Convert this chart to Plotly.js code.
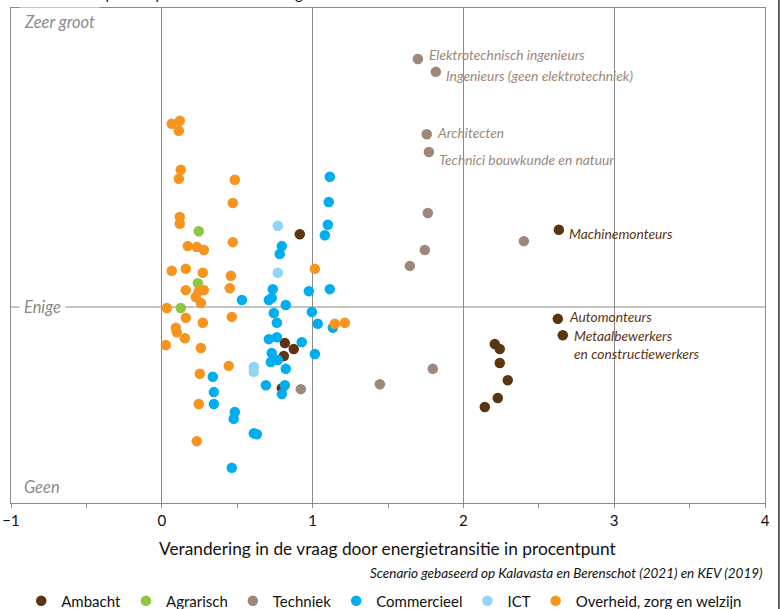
<!DOCTYPE html>
<html>
<head>
<meta charset="utf-8">
<script src="https://cdn.plot.ly/plotly-3.0.1.min.js"></script>
<style>html,body{margin:0;padding:0;background:#fff;}#chart{width:780px;height:609px;}</style>
</head>
<body>
<div id="chart"></div>
<script>
// Category names
const categories = ["Ambacht", "Agrarisch", "Techniek", "Commercieel", "ICT", "Overheid, zorg en welzijn"];

// Series values: x = verandering in vraag (procentpunt), y = mate van knelpunt (0 = geen, 100 = zeer groot)
const xAmbacht = [2.633, 2.626, 2.659, 2.208, 2.241, 2.241, 2.294, 2.228, 2.142, 0.915, 0.816, 0.875, 0.809, 0.796];
const yAmbacht = [55.2, 37.2, 33.9, 32.1, 31.1, 28.3, 24.8, 21.2, 19.4, 54.3, 32.3, 31.1, 29.7, 23.2];

const xAgrarisch = [0.245, 0.239, 0.126];
const yAgrarisch = [54.9, 44.4, 39.4];

const xTechniek = [1.698, 1.817, 1.757, 1.771, 1.764, 1.744, 1.645, 2.401, 1.797, 1.446, 0.922];
const yTechniek = [89.7, 87.1, 74.5, 70.9, 58.6, 51.1, 47.9, 52.9, 27.1, 24.0, 23.0];

const xCommercieel = [1.114, 1.107, 1.101, 1.081, 0.796, 0.782, 1.114, 0.975, 0.736, 0.531, 0.710, 0.729,
  0.822, 0.743, 0.995, 0.763, 1.034, 1.134, 0.710, 0.763, 0.928, 0.729, 0.723, 0.769, 1.015, 0.822,
  0.338, 0.690, 0.816, 0.796, 0.345, 0.345, 0.484, 0.477, 0.610, 0.630, 0.464];
const yCommercieel = [65.9, 60.8, 56.2, 54.1, 51.9, 50.3, 43.2, 42.8, 43.2, 41.0, 41.0, 41.4,
  40.0, 38.4, 38.6, 36.4, 36.2, 35.4, 33.1, 33.5, 32.5, 30.3, 28.5, 28.9, 30.1, 27.1,
  25.5, 23.8, 23.8, 22.0, 22.4, 20.0, 18.4, 17.0, 14.1, 13.9, 7.1];

const xICT = [0.769, 0.769, 0.610, 0.610];
const yICT = [56.0, 46.5, 27.5, 26.5];

const xOverheid = [0.066, 0.119, 0.113, 0.126, 0.113, 0.484, 0.471, 0.119, 0.119, 0.471, 0.172, 0.232, 0.279,
  1.015, 0.066, 0.159, 0.272, 0.458, 0.159, 0.245, 0.279, 0.451, 0.225, 0.259, 0.033, 0.159, 0.272, 0.464,
  0.093, 0.099, 0.153, 0.027, 0.259, 0.444, 0.252, 0.245, 0.232, 1.147, 1.214];
const yOverheid = [76.6, 77.2, 75.2, 67.3, 65.5, 65.3, 60.6, 57.8, 56.4, 52.7, 51.9, 51.7, 51.1,
  47.3, 46.9, 47.3, 46.5, 45.9, 43.0, 42.8, 43.0, 43.4, 41.6, 40.4, 39.4, 37.4, 36.4, 37.6,
  35.4, 34.5, 33.3, 31.9, 31.3, 27.7, 26.1, 20.0, 12.5, 36.2, 36.4];

// Labelled occupations
const techniekLabels = ["Elektrotechnisch ingenieurs", "Ingenieurs (geen elektrotechniek)", "Architecten", "Technici bouwkunde en natuur"];
const techniekLabelIdx = [0, 1, 2, 3];
const ambachtLabels = ["Machinemonteurs", "Automonteurs", "Metaalbewerkers<br>en constructiewerkers"];
const ambachtLabelIdx = [0, 1, 2];

// Axis tick labels
const xTicks = [-1, 0, 1, 2, 3, 4];
const yLevelLabels = ["Zeer groot", "Enige", "Geen"];
const yLevelValues = [97.2, 39.6, 3.2];

const colors = {
  "Ambacht": "#5b3512",
  "Agrarisch": "#8dc63f",
  "Techniek": "#9d877b",
  "Commercieel": "#00aeef",
  "ICT": "#8ed5f7",
  "Overheid, zorg en welzijn": "#f7941d"
};

const seriesX = [xAmbacht, xAgrarisch, xTechniek, xCommercieel, xICT, xOverheid];
const seriesY = [yAmbacht, yAgrarisch, yTechniek, yCommercieel, yICT, yOverheid];

const FONT = "Lato, 'Open Sans', sans-serif";

const traces = categories.map((c, i) => ({
  type: "scatter",
  mode: "markers",
  name: c,
  x: seriesX[i],
  y: seriesY[i],
  marker: {color: colors[c], size: 10.5, line: {width: 0}},
  hoverinfo: "x+y+name"
}));

const annotations = [];

// Techniek labels
const techShifts = [[9, 4], [8, -4], [8, 2], [8, -7]];
techniekLabels.forEach((t, k) => {
  const i = techniekLabelIdx[k];
  annotations.push({
    x: xTechniek[i], y: yTechniek[i], xref: "x", yref: "y", text: t, showarrow: false,
    xanchor: "left", yanchor: "middle", xshift: techShifts[k][0], yshift: techShifts[k][1],
    font: {family: FONT, size: 13.8, color: colors["Techniek"], style: "italic"}
  });
});
// Ambacht labels
const ambShifts = [[8, -4], [9, 2], [9, -9]];
ambachtLabels.forEach((t, k) => {
  const i = ambachtLabelIdx[k];
  annotations.push({
    x: xAmbacht[i], y: yAmbacht[i], xref: "x", yref: "y", text: t, showarrow: false,
    xanchor: "left", yanchor: "middle", align: "left", xshift: ambShifts[k][0], yshift: ambShifts[k][1],
    font: {family: FONT, size: 13.8, color: colors["Ambacht"], style: "italic"}
  });
});

// Y level labels
yLevelLabels.forEach((t, k) => {
  annotations.push({
    x: -1, y: yLevelValues[k], xref: "x", yref: "y", text: t, showarrow: false,
    xanchor: "left", yanchor: "middle", xshift: 8,
    bgcolor: "#ffffff", borderpad: 4,
    font: {family: FONT, size: 16.5, color: "#8a8a8a", style: "italic"}
  });
});

// Top (cut off in the reference) title
annotations.push({
  x: 0, y: 1.0, xref: "paper", yref: "paper", text: "Mate van knelpunt in personeelsvoorziening in basisscenario",
  showarrow: false, xanchor: "left", yanchor: "bottom", yshift: 4,
  font: {family: FONT, size: 15, color: "#111"}
});
// X axis title
annotations.push({
  x: 0.5, y: -0.091, xref: "paper", yref: "paper",
  text: "Verandering in de vraag door energietransitie in procentpunt",
  showarrow: false, xanchor: "center", yanchor: "middle",
  font: {family: FONT, size: 17.3, color: "#111"}
});
// Source
annotations.push({
  x: 1, y: -0.141, xref: "paper", yref: "paper",
  text: "Scenario gebaseerd op Kalavasta en Berenschot (2021) en KEV (2019)",
  showarrow: false, xanchor: "right", yanchor: "middle",
  font: {family: FONT, size: 13.5, color: "#111", style: "italic"}
});

const layout = {
  width: 780, height: 609,
  margin: {l: 11, r: 15, t: 8, b: 106, pad: 0, autoexpand: false},
  paper_bgcolor: "#fff", plot_bgcolor: "#fff",
  font: {family: FONT, color: "#111"},
  showlegend: true,
  legend: {
    orientation: "h", x: 0.495, xanchor: "center", y: -0.198, yanchor: "middle",
    font: {family: FONT, size: 15, color: "#111"}, itemwidth: 30, tracegroupgap: 0,
    itemclick: false
  },
  xaxis: {
    range: [-1, 4], tickvals: xTicks, ticktext: xTicks.map(v => v < 0 ? "\u2212" + Math.abs(v) : String(v)),
    showgrid: true, gridcolor: "#8a8a8a", gridwidth: 1,
    zeroline: false, showline: true, linecolor: "#8a8a8a", linewidth: 1, mirror: true,
    ticks: "outside", ticklen: 4, tickcolor: "#8a8a8a",
    minor: {dtick: 0.5, ticks: "outside", ticklen: 4, tickcolor: "#8a8a8a", showgrid: false},
    tickfont: {family: FONT, size: 15, color: "#111"}, fixedrange: true
  },
  yaxis: {
    range: [0, 100], showgrid: false, zeroline: false, showticklabels: false, ticks: "",
    showline: true, linecolor: "#8a8a8a", linewidth: 1, mirror: true, fixedrange: true
  },
  shapes: [
    {type: "line", xref: "x", yref: "y", x0: -1, x1: 4, y0: yLevelValues[1], y1: yLevelValues[1],
     line: {color: "#8a8a8a", width: 1.2}, layer: "below"},
    {type: "line", xref: "paper", yref: "paper", x0: 1.0185, x1: 1.0185, y0: -0.3, y1: 1.1,
     line: {color: "#333", width: 1.5}}
  ],
  annotations: annotations
};

Plotly.newPlot("chart", traces, layout, {displayModeBar: false, staticPlot: false});
</script>
</body>
</html>
